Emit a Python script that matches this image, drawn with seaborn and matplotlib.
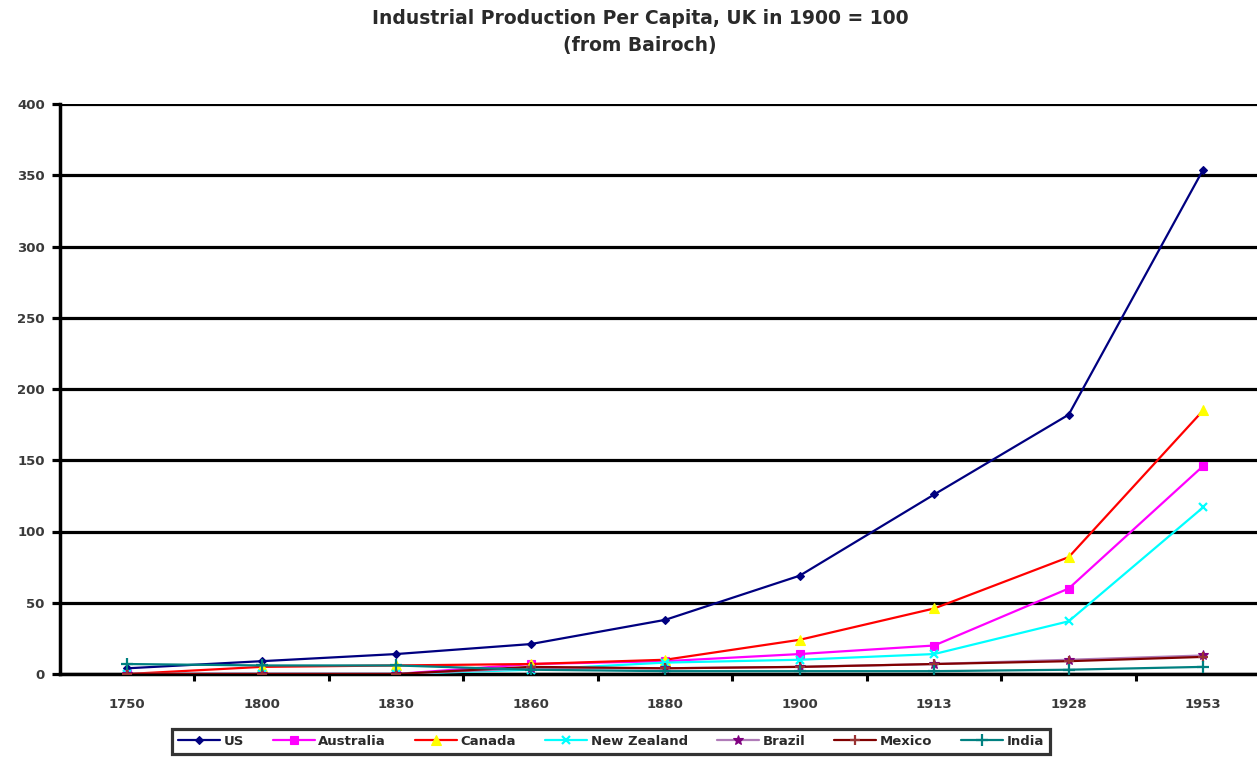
import matplotlib
matplotlib.use("Agg")
import matplotlib.pyplot as plt
import seaborn as sns
import numpy as np
import pandas as pd

# Industrial production per capita, UK in 1900 = 100 (Bairoch)
years = ['1750', '1800', '1830', '1860', '1880', '1900', '1913', '1928', '1953']
us = [4, 9, 14, 21, 38, 69, 126, 182, 354]
australia = [0, 0, 0, 7, 9, 14, 20, 60, 146]
canada = [0, 5, 6, 7, 10, 24, 46, 82, 185]
new_zealand = [0, 0, 0, 3, 8, 10, 14, 37, 117]
brazil = [0, 0, 0, 4, 4, 5, 7, 10, 13]
mexico = [0, 0, 0, 5, 4, 5, 7, 9, 12]
india = [7, 6, 6, 3, 2, 2, 2, 3, 5]

series_names = ['US', 'Australia', 'Canada', 'New Zealand', 'Brazil', 'Mexico', 'India']
series_values = [us, australia, canada, new_zealand, brazil, mexico, india]

# line colour, marker, marker colour, marker size
styles = {
    'US':          ('#000080', 'D', '#000080', 4.5),
    'Australia':   ('#FF00FF', 's', '#FF00FF', 5.5),
    'Canada':      ('#FF0000', '^', '#FFFF00', 6.5),
    'New Zealand': ('#00FFFF', 'x', '#00FFFF', 6),
    'Brazil':      ('#B07CB8', '*', '#800080', 7),
    'Mexico':      ('#800000', '+', '#993333', 7),
    'India':       ('#008080', '+', '#008080', 8),
}

df = pd.DataFrame({
    'pos': np.tile(np.arange(len(years)), len(series_names)),
    'value': np.concatenate(series_values),
    'country': np.repeat(series_names, len(years)),
})

sns.set_theme(style='white')
plt.rcParams['font.family'] = ['DejaVu Sans']

W, H = 1257, 757
fig = plt.figure(figsize=(W / 100, H / 100), dpi=100)
left_px, right_px, top_px, bottom_px = 60, 1257, 104, 674
ax = fig.add_axes([left_px / W, 1 - bottom_px / H,
                   (right_px - left_px) / W, (bottom_px - top_px) / H])

for name in series_names:
    lc, mk, mc, ms = styles[name]
    sub = df[df['country'] == name]
    sns.lineplot(data=sub, x='pos', y='value', ax=ax, color=lc, linewidth=1.6,
                 marker=mk, markersize=ms, markerfacecolor=mc, markeredgecolor=mc,
                 markeredgewidth=1.6 if mk in ('x', '+') else 0.8,
                 label=name, sort=False, legend=False, zorder=3)

ax.set_xlabel('')
ax.set_ylabel('')

# horizontal grid as heavy black rules
ax.set_yticks(np.arange(0, 401, 50))
ax.yaxis.grid(True, color='black', linewidth=2.3)
ax.set_axisbelow(True)
ax.xaxis.grid(False)

ax.set_xticks(np.arange(len(years)))
ax.set_xticklabels(years)
ax.set_xticks(np.arange(len(years)) + 0.5, minor=True)
ax.set_xlim(-0.5, 8.4)
ax.set_ylim(0, 400)
ax.tick_params(axis='x', which='major', length=0, pad=17,
               labelsize=9.5, labelcolor='#3a3a3a')
ax.tick_params(axis='x', which='minor', direction='out', length=5, width=2.2,
               color='black', bottom=True)
ax.tick_params(axis='y', which='major', direction='out', length=6, width=2.3,
               color='black', left=True, pad=5, labelsize=9.5, labelcolor='#3a3a3a')
for lbl in ax.get_xticklabels() + ax.get_yticklabels():
    lbl.set_fontweight('bold')

for side in ('top', 'right'):
    ax.spines[side].set_visible(False)
for side in ('left', 'bottom'):
    ax.spines[side].set_visible(True)
    ax.spines[side].set_color('black')
    ax.spines[side].set_linewidth(2.5)

fig.text(640 / W, 1 - 18 / H, 'Industrial Production Per Capita, UK in 1900 = 100',
         ha='center', va='center', fontsize=13.5, fontweight='bold', color='#2a2a2a')
fig.text(640 / W, 1 - 45 / H, '(from Bairoch)',
         ha='center', va='center', fontsize=13.5, fontweight='bold', color='#2a2a2a')

handles, labels = ax.get_legend_handles_labels()
leg = fig.legend(handles, labels, loc='upper left',
                 bbox_to_anchor=(172 / W, 1 - 729 / H), ncol=7, frameon=True,
                 fancybox=False, borderaxespad=0, handlelength=3.2,
                 handletextpad=0.25, columnspacing=2.2, borderpad=0.45,
                 prop={'size': 9.5, 'weight': 'bold'})
leg.get_frame().set_edgecolor('black')
leg.get_frame().set_linewidth(2.3)
for t in leg.get_texts():
    t.set_color('#2a2a2a')

fig.savefig('out.png', dpi=100, facecolor='white')
